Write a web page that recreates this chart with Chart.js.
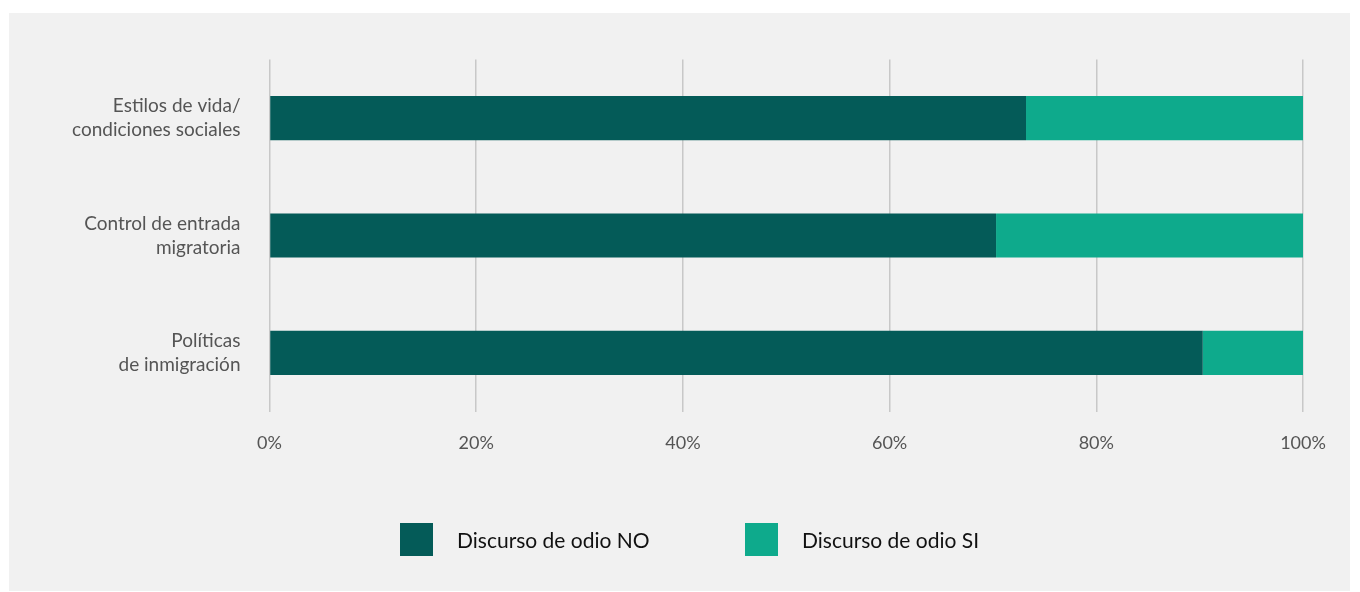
<!DOCTYPE html>
<html>
<head>
<meta charset="utf-8">
<script src="https://cdn.jsdelivr.net/npm/chart.js@4/dist/chart.umd.min.js"></script>
<style>
  body { margin: 0; background: #ffffff; font-family: Lato, sans-serif; }
  #panel { position: absolute; left: 9px; top: 13px; width: 1341px; height: 578px; background: #f1f1f1; }
  #chart { position: absolute; left: 0; top: 0; }
  .leg { position: absolute; top: 510px; display: flex; align-items: center; font-size: 21px; color: #111; }
  .leg span.box { display: inline-block; width: 33px; height: 33px; margin-right: 24px; }
</style>
</head>
<body>
<div id="panel">
  <canvas id="chart" width="1341" height="578"></canvas>
  <div class="leg" style="left:391px"><span class="box" style="background:#045b58"></span>Discurso de odio NO</div>
  <div class="leg" style="left:736px"><span class="box" style="background:#0eaa8c"></span>Discurso de odio SI</div>
</div>
<script>
// Categories and series (percent of total)
const categories = [
  ["Estilos de vida/", "condiciones sociales"],
  ["Control de entrada", "migratoria"],
  ["Políticas", "de inmigración"]
]
const odioNo = [73.2, 70.3, 90.3]
const odioSi = [26.8, 29.7, 9.7]
const xTicks = [0, 20, 40, 60, 80, 100]

const ctx = document.getElementById("chart").getContext("2d")

new Chart(ctx, {
  type: "bar",
  data: {
    labels: categories,
    datasets: [
      {
        label: "Discurso de odio NO",
        data: odioNo,
        backgroundColor: "#045b58",
        categoryPercentage: 1,
        barPercentage: 0.376,
      },
      {
        label: "Discurso de odio SI",
        data: odioSi,
        backgroundColor: "#0eaa8c",
        categoryPercentage: 1,
        barPercentage: 0.376,
      },
    ],
  },
  options: {
    indexAxis: "y",
    responsive: false,
    animation: false,
    layout: {
      padding: { top: 46.5, right: 47, bottom: 119.5, left: 0 },
    },
    plugins: {
      legend: { display: false },
      tooltip: { enabled: false },
    },
    scales: {
      x: {
        stacked: true,
        min: 0,
        max: 100,
        z: 1,
        border: { display: false },
        grid: {
          color: "rgba(185,185,185,0.75)",
          lineWidth: 1.5,
          drawTicks: false,
        },
        afterBuildTicks: (scale) => {
          scale.ticks = xTicks.map((v) => ({ value: v }))
        },
        afterFit: (scale) => {
          scale.height = 60
        },
        ticks: {
          padding: 21,
          color: "#555",
          font: { family: "Lato", size: 18 },
          callback: (v) => v + "%",
        },
      },
      y: {
        stacked: true,
        border: { display: false },
        grid: { display: false },
        afterFit: (scale) => {
          scale.width = 260.5
        },
        ticks: {
          padding: 21,
          color: "#555",
          font: { family: "Lato", size: 19, lineHeight: 1.25 },
        },
      },
    },
  },
})
</script>
</body>
</html>
